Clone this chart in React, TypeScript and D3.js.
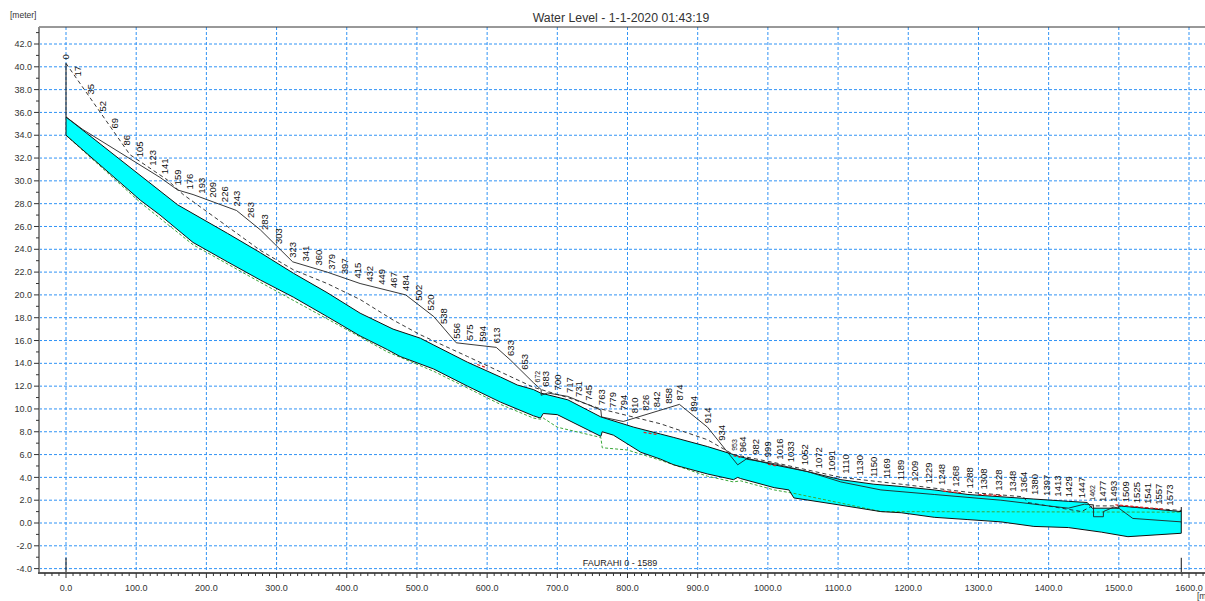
import * as d3 from 'd3'

type Pt = [number, number]

// chainage [m] / level [m]
const waterLevel: Pt[] = [
  [0, 35.6], [159, 27.9], [230, 25.4], [277, 23.7], [324, 21.9], [372, 20.2], [419, 18.4], [466, 17.0],
  [505, 16.2], [524, 15.6], [572, 14.1], [619, 12.8], [643, 12.1], [666, 11.7], [676, 11.4], [715, 10.8],
  [762, 9.3], [809, 8.4], [847, 7.8], [866, 7.5], [914, 6.7], [951, 6.0], [961, 5.8], [1009, 5.1],
  [1057, 4.5], [1104, 3.8], [1151, 3.4], [1190, 3.2], [1237, 2.9], [1285, 2.5], [1332, 2.3], [1379, 2.1],
  [1428, 1.9], [1455, 1.8], [1462, 1.3], [1500, 1.3], [1500, 1.5], [1589, 1.0],
]

const bedLevel: Pt[] = [
  [0, 34.0], [106, 28.3], [134, 27.0], [181, 24.6], [230, 22.9], [277, 21.3], [324, 19.8], [372, 18.1],
  [419, 16.4], [458, 15.2], [476, 14.6], [524, 13.5], [572, 12.0], [619, 10.6], [666, 9.4], [676, 9.2],
  [680, 9.6], [700, 9.5], [762, 7.6], [764, 8.0], [780, 7.7], [819, 6.2], [847, 5.6], [866, 5.1],
  [914, 4.3], [951, 3.8], [957, 4.0], [961, 3.9], [1009, 3.1], [1030, 2.9], [1037, 2.2], [1100, 1.6],
  [1161, 1.0], [1190, 0.9], [1237, 0.5], [1285, 0.3], [1332, 0.1], [1379, -0.3], [1428, -0.4],
  [1475, -0.8], [1513, -1.2], [1589, -0.9],
]

const greenLevel: Pt[] = [
  [0, 34.0], [106, 28.1], [181, 24.4], [277, 21.1], [372, 17.9], [458, 15.0], [524, 13.3], [619, 10.4],
  [666, 9.2], [676, 9.1], [680, 9.2], [700, 8.4], [762, 7.5], [764, 6.6], [800, 6.4], [847, 5.5],
  [914, 4.1], [951, 3.6], [961, 3.7], [1009, 2.9], [1037, 2.6], [1100, 1.8], [1161, 1.0], [1589, 0.95],
]

const leftBank: Pt[] = [
  [0, 35.6], [24, 34.5], [134, 30.3], [159, 29.2], [181, 28.8], [243, 27.4], [277, 25.7], [323, 22.9],
  [372, 22.0], [419, 21.0], [484, 20.0], [524, 18.1], [556, 15.8], [613, 15.4], [633, 14.3], [666, 12.3],
  [677, 11.7], [677, 11.2], [686, 11.4], [715, 11.1], [743, 10.4], [762, 9.9], [763, 9.3], [794, 8.9],
  [874, 10.4], [914, 8.4], [957, 5.1], [969, 5.6], [1009, 5.2], [1057, 4.5], [1104, 3.6], [1161, 2.9],
  [1237, 2.5], [1332, 2.0], [1400, 1.5], [1428, 1.3], [1451, 1.65], [1464, 1.6], [1464, 0.55],
  [1478, 0.55], [1478, 1.0], [1493, 1.4], [1500, 1.3], [1520, 0.4], [1589, 0.1],
]

const rightBank: Pt[] = [
  [0, 40.3], [91, 32.3], [144, 30.1], [167, 28.8], [230, 26.0], [277, 23.9], [324, 22.2], [372, 21.0],
  [419, 19.6], [466, 17.8], [505, 16.5], [572, 14.6], [666, 11.9], [715, 11.0], [762, 10.0], [847, 8.7],
  [914, 7.3], [951, 6.0], [1009, 5.3], [1104, 4.0], [1190, 3.4], [1285, 2.7], [1364, 2.3], [1370, 1.8],
  [1447, 1.0], [1462, 1.5], [1500, 1.5], [1589, 1.1],
]

const redSegments: Pt[][] = [
  [[586, 13.9], [600, 13.6]],
  [[823, 7.95], [843, 7.75]],
  [[951, 5.9], [961, 5.75]],
  [[1000, 5.15], [1012, 5.0]],
  [[1250, 2.8], [1275, 2.65]],
  [[1300, 2.5], [1335, 2.4]],
  [[1495, 1.6], [1565, 1.2]],
]

const chainages = [
  0, 17, 35, 52, 69, 86, 105, 123, 141, 159, 176, 193, 209, 226, 243, 263, 283, 303, 323, 341, 360, 379,
  397, 415, 432, 449, 467, 484, 502, 520, 538, 556, 575, 594, 613, 633, 653, 672, 683, 700, 717, 731, 745,
  763, 779, 794, 810, 826, 842, 858, 874, 894, 914, 934, 953, 964, 982, 999, 1016, 1033, 1052, 1072, 1091,
  1110, 1130, 1150, 1169, 1189, 1209, 1229, 1248, 1268, 1288, 1308, 1328, 1348, 1364, 1380, 1397, 1413,
  1429, 1447, 1462, 1477, 1493, 1509, 1525, 1541, 1557, 1573,
]
const smallLabels = [672, 953, 1462]

const xTicks = d3.range(0, 1601, 100)
const yTicks = d3.range(-4, 43, 2)
const title = 'Water Level - 1-1-2020 01:43:19'
const branchName = 'FAURAHI 0 - 1589'
const riverStart = 0
const riverEnd = 1589

const W = 1205
const H = 601
const L = 39
const R = 1205
const T = 27
const B = 573
const FONT = '"Liberation Sans", Arial, sans-serif'

const x = d3.scaleLinear().domain([0, 1600]).range([66, 1189])
const y = d3.scaleLinear().domain([0, 42]).range([523, 44])

const line = d3.line<Pt>().x((d) => x(d[0])).y((d) => y(d[1]))

// level of a polyline at a chainage, used to sit the labels on top
function levelAt(series: Pt[], ch: number) {
  for (let i = 1; i < series.length; i++) {
    const [c0, v0] = series[i - 1]
    const [c1, v1] = series[i]
    if (ch >= c0 && ch <= c1) return c1 === c0 ? Math.max(v0, v1) : v0 + ((v1 - v0) * (ch - c0)) / (c1 - c0)
  }
  return series[series.length - 1][1]
}

export default function App() {
  const cyanPath = line(waterLevel.concat(bedLevel.slice().reverse())) + 'Z'
  const minorX = d3.range(-30, 1621, 10).filter((c) => x(c) > L && x(c) < R)
  const minorY = d3.range(-4, 44, 1).filter((v) => y(v) > T && y(v) < B)

  return (
    <svg width={W} height={H} style={{ position: 'absolute', left: 0, top: 0, background: '#fff' }} fontFamily={FONT}>
      <rect width={W} height={H} fill="#fff" />
      <text x={621} y={22} textAnchor="middle" fontSize={12.3} fill="#333">{title}</text>
      <text x={10} y={18} fontSize={8.5} fill="#333">[meter]</text>

      {/* grid */}
      {yTicks.map((v) => (
        <line key={'gy' + v} x1={L} x2={R} y1={y(v)} y2={y(v)} stroke="#3193f5" strokeWidth={1} strokeDasharray="3,2" />
      ))}
      {xTicks.map((c) => (
        <line key={'gx' + c} x1={x(c)} x2={x(c)} y1={T} y2={B} stroke="#3193f5" strokeWidth={1} strokeDasharray="3,2" />
      ))}

      {/* water body */}
      <path d={cyanPath} fill="#00ffff" stroke="none" />
      <path d={line(greenLevel) ?? ''} fill="none" stroke="#3aa83a" strokeWidth={1} strokeDasharray="3,2" />
      <path d={line(bedLevel) ?? ''} fill="none" stroke="#111" strokeWidth={1} />
      <path d={line(waterLevel) ?? ''} fill="none" stroke="#111" strokeWidth={1} />
      <path d={line(leftBank) ?? ''} fill="none" stroke="#222" strokeWidth={0.9} />
      <path d={line(rightBank) ?? ''} fill="none" stroke="#222" strokeWidth={0.9} strokeDasharray="4,3" />
      {redSegments.map((s, i) => (
        <path key={'r' + i} d={line(s) ?? ''} fill="none" stroke="#e02020" strokeWidth={1.2} strokeDasharray="3,2" />
      ))}

      {/* section ends */}
      <line x1={x(riverStart)} x2={x(riverStart)} y1={y(bedLevel[0][1])} y2={y(rightBank[0][1])} stroke="#111" />
      <line x1={x(riverEnd)} x2={x(riverEnd)} y1={y(bedLevel[bedLevel.length - 1][1])} y2={y(1.4)} stroke="#111" />
      <line x1={x(riverStart)} x2={x(riverStart)} y1={y(-3.05)} y2={B} stroke="#111" />
      <line x1={x(riverEnd)} x2={x(riverEnd)} y1={y(-3.05)} y2={B} stroke="#111" />

      {/* chainage labels */}
      {chainages.map((c) => {
        const top = Math.max(levelAt(waterLevel, c), levelAt(leftBank, c), levelAt(rightBank, c))
        const fs = smallLabels.includes(c) ? 7 : 9.5
        const px = x(c) + fs * 0.36
        const py = y(top) - 4
        return (
          <text key={'c' + c} transform={`translate(${px},${py}) rotate(-90)`} fontSize={fs} fill="#111">
            {c}
          </text>
        )
      })}

      <text x={620} y={566} textAnchor="middle" fontSize={9} fill="#222">{branchName}</text>

      {/* axes */}
      <line x1={L} x2={R} y1={T} y2={T} stroke="#333" strokeWidth={1} />
      <line x1={L} x2={L} y1={T} y2={B + 1} stroke="#8a8a8a" strokeWidth={2} />
      <line x1={L - 1} x2={R} y1={B} y2={B} stroke="#555" strokeWidth={2} />
      {minorY.map((v) => (
        <line key={'ty' + v} x1={L - (v % 2 === 0 ? 5 : 3)} x2={L} y1={y(v)} y2={y(v)} stroke="#333" />
      ))}
      {minorX.map((c) => (
        <line key={'tx' + c} x1={x(c)} x2={x(c)} y1={B} y2={B + (c % 100 === 0 ? 5 : 3)} stroke="#333" />
      ))}
      {yTicks.map((v) => (
        <text key={'ly' + v} x={32} y={y(v)} dy="0.35em" textAnchor="end" fontSize={9} fill="#333">
          {v.toFixed(1)}
        </text>
      ))}
      {xTicks.map((c) => (
        <text key={'lx' + c} x={x(c)} y={591} textAnchor="middle" fontSize={9} fill="#333">
          {c.toFixed(1)}
        </text>
      ))}
      <text x={1197} y={599} fontSize={8.5} fill="#333">[meter]</text>
    </svg>
  )
}
